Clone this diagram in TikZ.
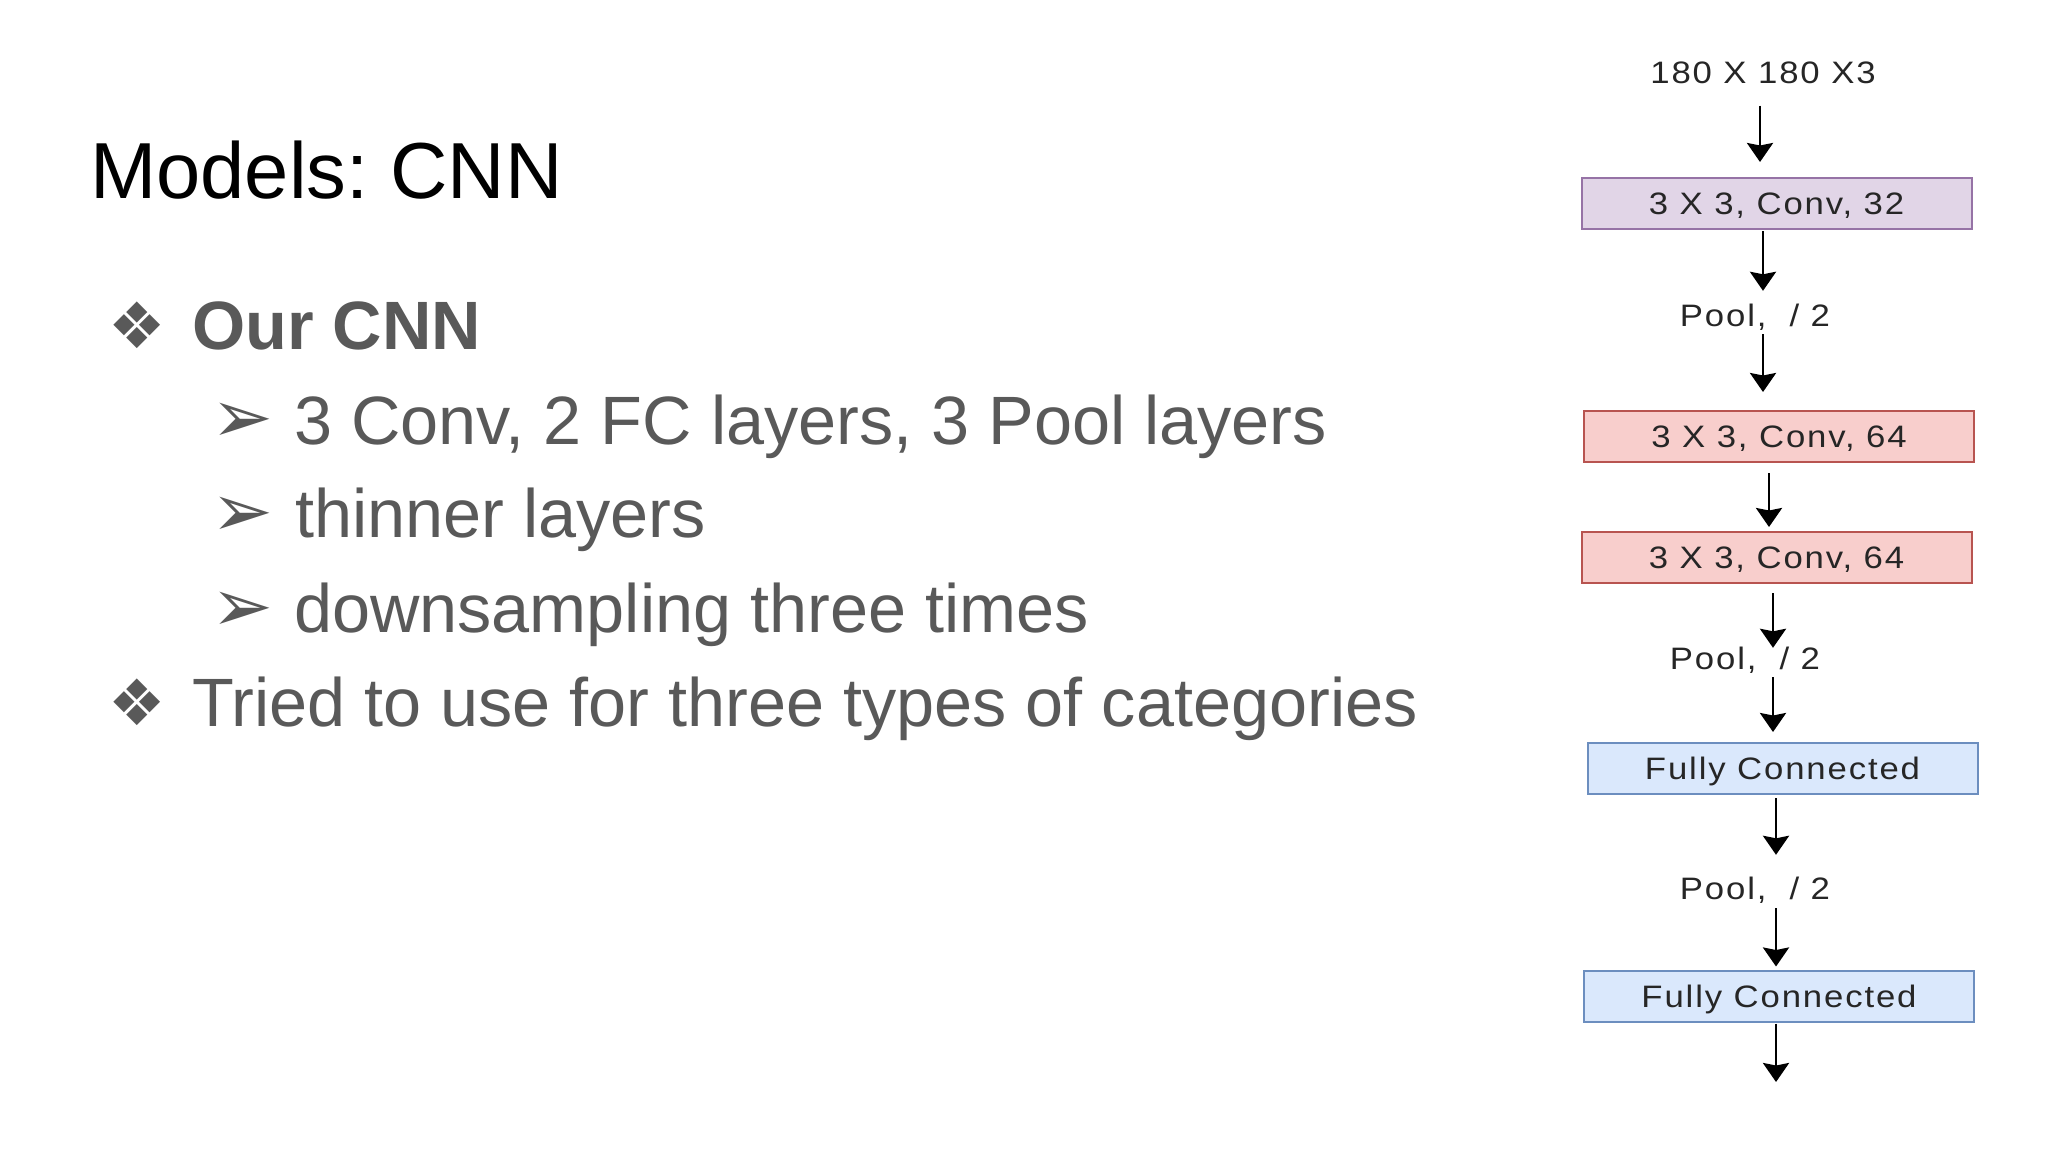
\documentclass[tikz,border=0pt]{standalone}
\usepackage{fontspec}
\setmainfont{Liberation Sans}
\newfontfamily\dingfont{DejaVu Sans}
\newfontfamily\diagfont[LetterSpace=6,FakeStretch=1.12]{Liberation Sans}
\usetikzlibrary{arrows.meta}
\definecolor{slidegray}{HTML}{595959}
\definecolor{diagtext}{HTML}{262626}
\definecolor{purfill}{HTML}{E1D5E7}
\definecolor{purdraw}{HTML}{9673A6}
\definecolor{redfill}{HTML}{F8CECC}
\definecolor{reddraw}{HTML}{B85450}
\definecolor{bluefill}{HTML}{DAE8FC}
\definecolor{bluedraw}{HTML}{6C8EBF}
\frenchspacing
\begin{document}
\begin{tikzpicture}[x=1pt,y=-1pt,
  titletext/.style={anchor=base west, inner sep=0pt, font=\fontsize{79.5}{90}\selectfont},
  lvltext/.style={anchor=base west, inner sep=0pt, text=slidegray, font=\fontsize{68.4}{80}\selectfont},
  dingA/.style={inner sep=0pt, text=slidegray, font=\dingfont\fontsize{64}{70}\selectfont},
  dingB/.style={inner sep=0pt, text=slidegray, font=\dingfont\fontsize{74}{80}\selectfont},
  layerbox/.style={draw, line width=2pt, minimum width=390pt, minimum height=51pt, inner sep=0pt,
    font=\diagfont\fontsize{31}{36}\selectfont, text height=22pt, text depth=0pt, text=diagtext},
  lbl/.style={inner sep=0pt, font=\diagfont\fontsize{31}{36}\selectfont, text height=22pt, text depth=0pt, text=diagtext},
  arr/.style={line width=2.8pt, -{Stealth[width=26pt,length=19pt,inset=2.5pt]}}
]
\useasboundingbox (0,0) rectangle (2048,1152);
\fill[white] (0,0) rectangle (2048,1152);

% slide text
\node[titletext] (title) at (90,198) {Models: CNN};
\node[dingA] (d1) at (137.5,325.5) {❖};
\node[lvltext, font=\bfseries\fontsize{68.4}{80}\selectfont] (b1) at (192,349) {Our CNN};
\node[dingB] (s1) at (242,423) {➢};
\node[lvltext] (b11) at (294,444) {3 Conv, 2 FC layers, 3 Pool layers};
\node[dingB] (s2) at (242,517) {➢};
\node[lvltext] (b12) at (295,537) {thinner layers};
\node[dingB] (s3) at (242,611.5) {➢};
\node[lvltext] (b13) at (294,632) {downsampling three times};
\node[dingA] (d2) at (137.5,702.5) {❖};
\node[lvltext] (b2) at (192,726) {Tried to use for three types of categories};

% diagram
\node[lbl] (t0) at (1763,72.5) {180 X 180 X3};
\node[layerbox, fill=purfill, draw=purdraw] (box1) at (1776.5,203.5) {3 X 3, Conv, 32};
\node[lbl] (pool1) at (1755,315) {Pool,\ \ / 2};
\node[layerbox, fill=redfill, draw=reddraw] (box2) at (1779,436.5) {3 X 3, Conv, 64};
\node[layerbox, fill=redfill, draw=reddraw] (box3) at (1776.5,557.5) {3 X 3, Conv, 64};
\node[lbl] (pool2) at (1745,658) {Pool,\ \ / 2};
\node[layerbox, fill=bluefill, draw=bluedraw] (box4) at (1782.5,768.5) {Fully Connected};
\node[lbl] (pool3) at (1755,888) {Pool,\ \ / 2};
\node[layerbox, fill=bluefill, draw=bluedraw] (box5) at (1779,996) {Fully Connected};

\coordinate (x1) at (1760,0);
\coordinate (x2) at (1763,0);
\coordinate (x4) at (1769,0);
\coordinate (x5) at (1773,0);
\coordinate (x7) at (1776,0);
\coordinate (outend) at (1776,1082);

\draw[arr, shorten <=22pt, shorten >=15pt] (x1 |- t0.south) -- (x1 |- box1.north);
\draw[arr, shorten <=1pt, shorten >=13pt] (x2 |- box1.south) -- (x2 |- pool1.north);
\draw[arr, shorten <=8pt, shorten >=18pt] (x2 |- pool1.south) -- (x2 |- box2.north);
\draw[arr, shorten <=10pt, shorten >=4pt] (x4 |- box2.south) -- (x4 |- box3.north);
\draw[arr, shorten <=9pt, shorten >=-1pt] (x5 |- box3.south) -- (x5 |- pool2.north);
\draw[arr, shorten <=8pt, shorten >=10pt] (x5 |- pool2.south) -- (x5 |- box4.north);
\draw[arr, shorten <=3pt, shorten >=22pt] (x7 |- box4.south) -- (x7 |- pool3.north);
\draw[arr, shorten <=9pt, shorten >=3pt] (x7 |- pool3.south) -- (x7 |- box5.north);
\draw[arr, shorten <=1pt] (x7 |- box5.south) -- (outend);
\end{tikzpicture}
\end{document}
